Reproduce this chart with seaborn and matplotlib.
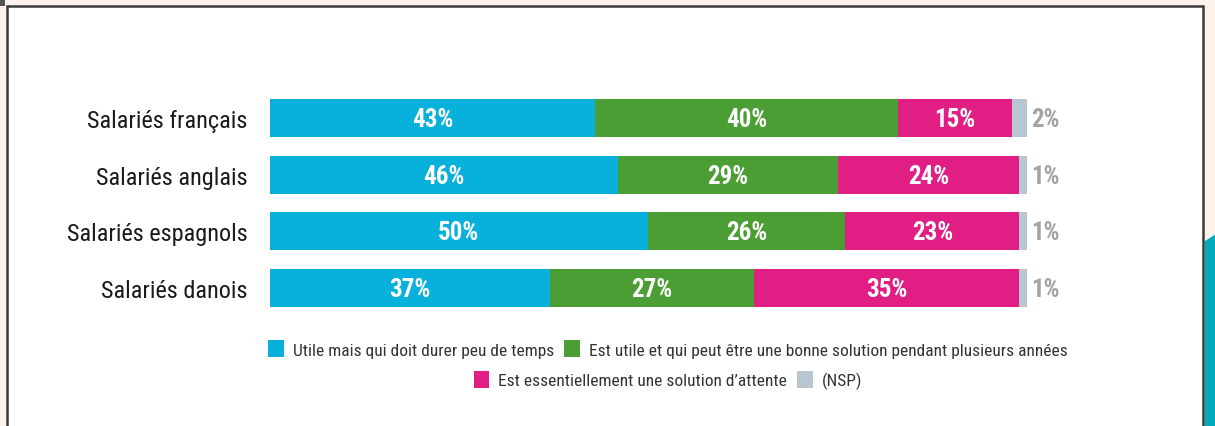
import matplotlib
matplotlib.use("Agg")
import matplotlib.pyplot as plt
import seaborn as sns
import pandas as pd
import numpy as np
from matplotlib.patches import Rectangle, Polygon, Patch

categories = ["Salariés français", "Salariés anglais", "Salariés espagnols", "Salariés danois"]
series_names = [
    "Utile mais qui doit durer peu de temps",
    "Est utile et qui peut être une bonne solution pendant plusieurs années",
    "Est essentiellement une solution d’attente",
    "(NSP)",
]
courte = [43, 46, 50, 37]
durable = [40, 29, 26, 27]
attente = [15, 24, 23, 35]
nsp = [2, 1, 1, 1]
colors = ["#08b0dc", "#4b9e33", "#e11e83", "#b8c6d1"]

sns.set_theme(style="white")
FONT = ["Liberation Sans Narrow", "Roboto Condensed", "Liberation Sans", "DejaVu Sans"]
plt.rcParams["font.family"] = FONT

W, H = 1215, 427
fig = plt.figure(figsize=(W / 100, H / 100), dpi=100)
fig.patch.set_facecolor("#fdf2ec")

# frame
fig.patches.append(Rectangle((7 / W, -0.05), (1203 - 7) / W, (H - 7) / H + 0.05,
                             transform=fig.transFigure, facecolor="white",
                             edgecolor="#3a3a3a", linewidth=1.8, zorder=-5))
fig.patches.append(Polygon([(1205 / W, 1 - 242 / H), (1 + 0.01, 1 - 228 / H), (1 + 0.01, -0.01), (1205 / W, -0.01)],
                           closed=True, transform=fig.transFigure, facecolor="#00aab8",
                           edgecolor="none", zorder=-5))
fig.patches.append(Rectangle((0, 1 - 7 / H), 5 / W, 7 / H, transform=fig.transFigure,
                             facecolor="#555555", edgecolor="none", zorder=-5))

x0, x1 = 269.5, 1027
ytop, ybot = 90.6, 317.4
ax = fig.add_axes([x0 / W, 1 - ybot / H, (x1 - x0) / W, (ybot - ytop) / H])
ax.set_facecolor("none")
ax.set_zorder(3)

cum = np.cumsum(np.array([courte, durable, attente, nsp]), axis=0)

for i in range(3, -1, -1):
    sns.barplot(x=cum[i], y=categories, color=colors[i], orient="h", width=0.67,
                saturation=1, ax=ax, linewidth=0, edgecolor="none")

vals = [courte, durable, attente]
for j in range(4):
    for i in range(3):
        start = cum[i][j] - vals[i][j]
        ax.text(start + vals[i][j] / 2, j + 0.02, f"{vals[i][j]}%", ha="center", va="center",
                color="white", fontsize=18, fontweight="bold", family=FONT)
    ax.text(cum[3][j] + 0.6, j + 0.02, f"{nsp[j]}%", ha="left", va="center",
            color="#a3a3a3", fontsize=18, fontweight="bold", family=FONT)

ax.set_xlim(0, 100)
ax.set_ylim(3.5, -0.5)
ax.set_xlabel("")
ax.set_ylabel("")
ax.set_xticks([])
ax.tick_params(axis="y", length=0, pad=16, labelsize=17.5, labelcolor="#1a1a1a")
for lab in ax.get_yticklabels():
    lab.set_family(FONT)
sns.despine(ax=ax, left=True, bottom=True)

handles = [Patch(facecolor=c, edgecolor="none") for c in colors]
kw = dict(ncol=2, frameon=False, fontsize=12.5, handlelength=0.9, handleheight=1.1,
          handletextpad=0.5, columnspacing=0.6, labelcolor="#333333")
leg1 = fig.legend(handles[:2], series_names[:2], loc="center", bbox_to_anchor=(668 / W, 1 - 350 / H), **kw)
leg2 = fig.legend(handles[2:], series_names[2:], loc="center", bbox_to_anchor=(668 / W, 1 - 381 / H), **kw)
leg1.set_zorder(4)
leg2.set_zorder(4)

fig.savefig("out.png", dpi=100, facecolor=fig.get_facecolor())
